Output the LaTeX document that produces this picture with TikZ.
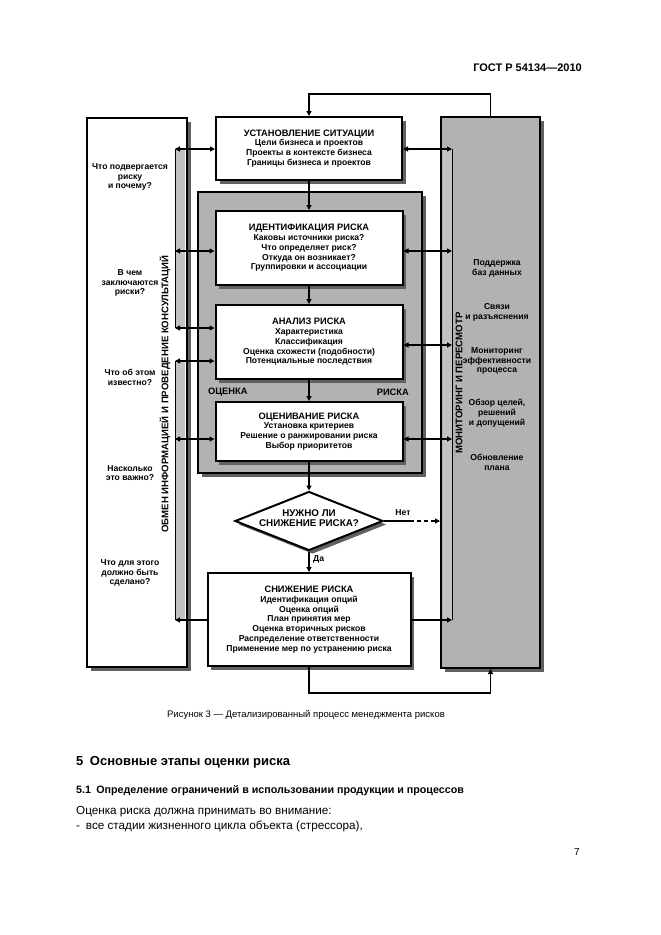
\documentclass[tikz,border=0pt]{standalone}
\usepackage{fontspec}
\setmainfont{Liberation Sans}
\usepackage{tikz}
\usetikzlibrary{arrows.meta,positioning,calc,shapes.geometric,shadows}
\definecolor{dotgray}{gray}{0.7}
\definecolor{stripgray}{gray}{0.76}
\definecolor{shadgray}{gray}{0.38}
\newcommand{\boxhead}[1]{{\fontsize{9.3}{9.8}\selectfont #1}}
\tikzstyle{dtxt}=[font=\fontsize{8.6}{9.8}\selectfont\bfseries,align=center,inner sep=0pt]
\tikzstyle{box}=[rectangle,draw,line width=2pt,fill=white,dtxt,drop shadow={shadow xshift=3.5pt,shadow yshift=-3.5pt,fill=shadgray,opacity=1}]
\tikzset{conn/.style={line width=1.4pt,-{Triangle[length=5pt,width=5pt]}},
  biconn/.style={line width=1.4pt,{Triangle[length=5pt,width=5pt]}-{Triangle[length=5pt,width=5pt]}},
  frame/.style={white,line width=0.6pt,double=dotgray,double distance=1.2pt},
  vtxt/.style={dtxt,rotate=90,font=\fontsize{9.6}{11}\selectfont\bfseries},
  ptxt/.style={inner sep=0pt,anchor=west}}

\begin{document}
\begin{tikzpicture}[x=1pt,y=-1pt]
\useasboundingbox (0,0) rectangle (661,935);
\fill[white] (0,0) rectangle (661,935);
\node (hdr) at (582,68)[inner sep=0pt,anchor=east,font=\fontsize{11}{13}\selectfont\bfseries] {ГОСТ Р 54134—2010};
\node (lbox) at (137,392.5)[box,minimum width=100,minimum height=549] {};
\node (rbox) at (490.5,392.5)[box,fill=dotgray,minimum width=99,minimum height=551] {};
\node (grp) at (310,332.5)[box,fill=dotgray,minimum width=224,minimum height=281] {};
\draw[frame] ([shift={(5,5)}]grp.north west) rectangle ([shift={(-5,-5)}]grp.south east);
\node (ocl) at (207,392)[dtxt,anchor=west,fill=dotgray,inner sep=1pt] {\boxhead{ОЦЕНКА}};
\node (rsl) at (410,392)[dtxt,anchor=east,fill=dotgray,inner sep=1pt] {\boxhead{РИСКА}};
\draw[frame] (ocl.east) -- (rsl.west);
\coordinate (lb1) at (175,149);
\coordinate (lb2) at (175,251);
\coordinate (lb3) at (175,328);
\coordinate (lb4) at (175,361);
\coordinate (lb5) at (175,439);
\coordinate (lb6) at (175,620);
\coordinate (rb1) at (452,149);
\coordinate (rb2) at (452,251);
\coordinate (rb3) at (452,345);
\coordinate (rb4) at (452,439);
\coordinate (rb6) at (452,620);
\coordinate (netc) at (410,521);
\fill[stripgray] (lb1) rectangle ([xshift=10pt]lb3);
\fill[stripgray] (lb4) rectangle ([xshift=10pt]lb6);
\draw[line width=1pt] (lb1) -- (lb3);
\draw[line width=1pt] (lb4) -- (lb6);
\fill[stripgray] ([xshift=-9pt]rb1) rectangle (rb6);
\draw[line width=1pt] (rb1) -- (rb6);
\node (ust) at (309,148.5)[box,minimum width=186,minimum height=63] {\boxhead{УСТАНОВЛЕНИЕ СИТУАЦИИ}\\Цели бизнеса и проектов\\Проекты в контексте бизнеса\\Границы бизнеса и проектов};
\node (ident) at (309,248)[box,minimum width=187,minimum height=74] {\boxhead{ИДЕНТИФИКАЦИЯ РИСКА}\\Каковы источники риска?\\Что определяет риск?\\Откуда он возникает?\\Группировки и ассоциации};
\node (anal) at (309,342)[box,minimum width=187,minimum height=74] {\boxhead{АНАЛИЗ РИСКА}\\Характеристика\\Классификация\\Оценка схожести (подобности)\\Потенциальные последствия};
\node (ocen) at (309,431.5)[box,minimum width=187,minimum height=59] {\boxhead{ОЦЕНИВАНИЕ РИСКА}\\Установка критериев\\Решение о ранжировании риска\\Выбор приоритетов};
\node (need) at (309,521)[box,diamond,minimum width=148,minimum height=59] {};
\node (needtx) at (309,518)[dtxt,font=\fontsize{9.8}{10}\selectfont\bfseries] {НУЖНО ЛИ\\СНИЖЕНИЕ РИСКА?};
\node (sniz) at (309,619.5)[box,minimum width=203,minimum height=93] {\boxhead{СНИЖЕНИЕ РИСКА}\\Идентификация опций\\Оценка опций\\План принятия мер\\Оценка вторичных рисков\\Распределение ответственности\\Применение мер по устранению риска};
\node (q1) at (130,177)[dtxt] {Что подвергается\\риску\\и почему?};
\node (q2) at (130,283)[dtxt] {В чем\\заключаются\\риски?};
\node (q3) at (130,377)[dtxt] {Что об этом\\известно?};
\node (q4) at (130,473)[dtxt] {Насколько\\это важно?};
\node (q5) at (130,573)[dtxt] {Что для этого\\должно быть\\сделано?};
\node (obmen) at (165,394)[vtxt] {ОБМЕН ИНФОРМАЦИЕЙ И ПРОВЕДЕНИЕ КОНСУЛЬТАЦИЙ};
\node (monit) at (459,383)[vtxt] {МОНИТОРИНГ И ПЕРЕСМОТР};
\node (m1) at (497,268)[dtxt] {Поддержка\\баз данных};
\node (m2) at (497,312)[dtxt] {Связи\\и разъяснения};
\node (m3) at (497,361)[dtxt] {Мониторинг\\эффективности\\процесса};
\node (m4) at (497,413)[dtxt] {Обзор целей,\\решений\\и допущений};
\node (m5) at (497,462)[dtxt] {Обновление\\плана};
\node (net) at (403,513)[dtxt] {Нет};
\node (da) at (313,559)[dtxt,anchor=west] {Да};
\draw[conn] (rbox.north) -- ++(0,-22) -| (ust.north);
\draw[conn] (ust) -- (ident);
\draw[conn] (ident) -- (anal);
\draw[conn] (anal) -- (ocen);
\draw[conn] (ocen) -- (need);
\draw[conn] (need) -- (sniz);
\draw[conn] (sniz.south) -- ++(0,26) -| (rbox.south);
\draw[biconn] (lb1) -- (ust.west |- lb1);
\draw[biconn] (lb2) -- (ident.west |- lb2);
\draw[biconn] (lb3) -- (anal.west |- lb3);
\draw[biconn] (lb4) -- (anal.west |- lb4);
\draw[biconn] (lb5) -- (ocen.west |- lb5);
\draw[conn] (sniz.west |- lb6) -- (lb6);
\draw[biconn] (ust.east |- rb1) -- (rb1);
\draw[biconn] (ident.east |- rb2) -- (rb2);
\draw[biconn] (anal.east |- rb3) -- (rb3);
\draw[biconn] (ocen.east |- rb4) -- (rb4);
\draw[conn] (sniz.east |- rb6) -- (rb6);
\draw[line width=1.4pt] (need.east) -- (netc);
\draw[conn,dash pattern=on 4pt off 3pt] (netc) -- (rbox.west |- netc);
\node (cap) at (306,715)[inner sep=0pt,font=\fontsize{9.5}{11}\selectfont] {Рисунок 3 — Детализированный процесс менеджмента рисков};
\node (sec) at (76,762)[ptxt,font=\fontsize{13}{15}\selectfont\bfseries] {5\enspace Основные этапы оценки риска};
\node (sub) at (76,791)[ptxt,font=\fontsize{10.7}{13}\selectfont\bfseries] {5.1\enspace Определение ограничений в использовании продукции и процессов};
\node (par) at (76,812)[ptxt,font=\fontsize{11.7}{13}\selectfont] {Оценка риска должна принимать во внимание:};
\node (itm) at (76,826)[ptxt,font=\fontsize{11.7}{13}\selectfont] {-\enspace все стадии жизненного цикла объекта (стрессора),};
\node (pg) at (577,852)[inner sep=0pt,font=\fontsize{10}{12}\selectfont] {7};
\end{tikzpicture}
\end{document}
